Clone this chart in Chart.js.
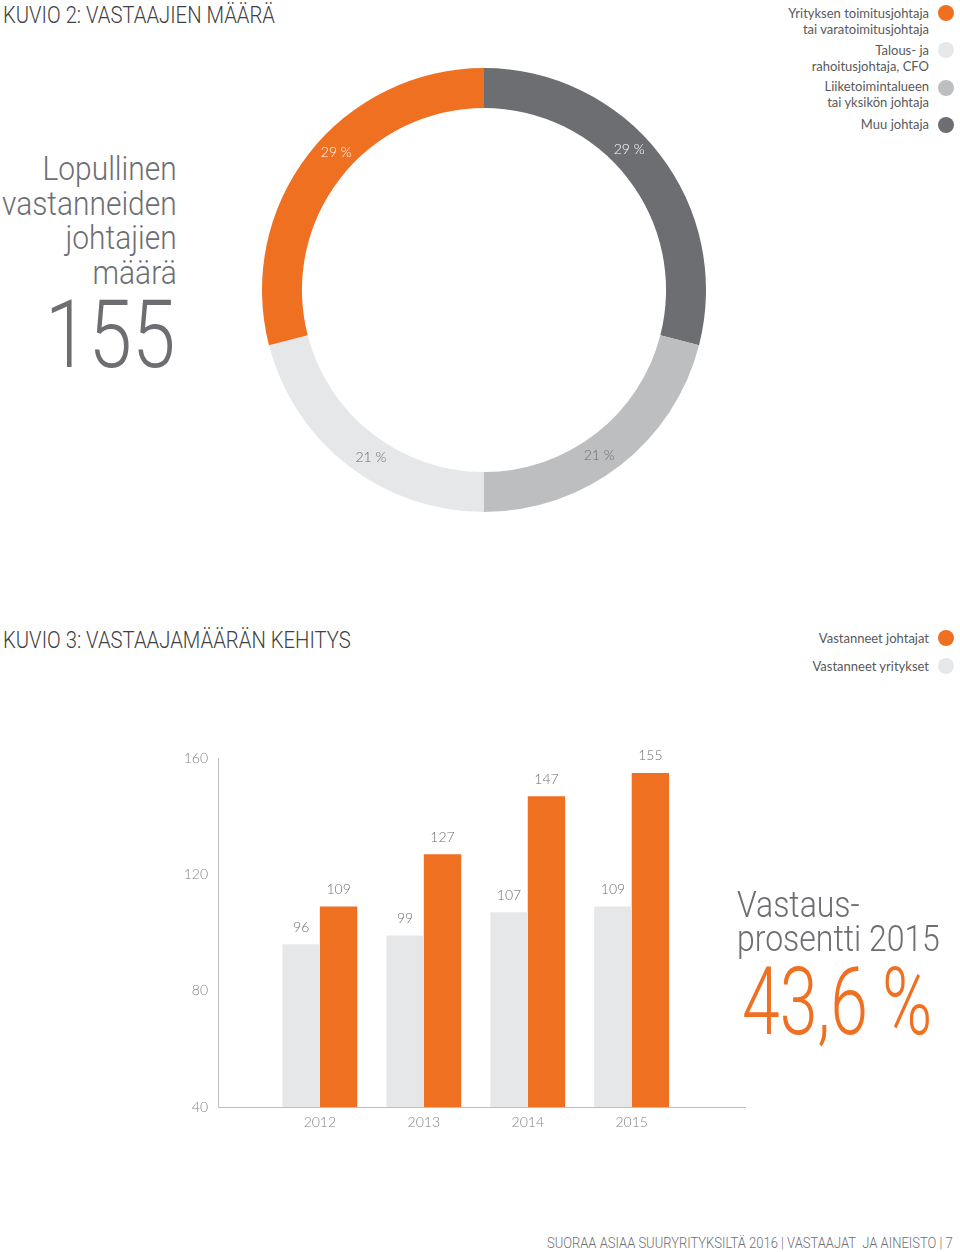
<!DOCTYPE html>
<html>
<head>
<meta charset="utf-8">
<script src="https://cdn.jsdelivr.net/npm/chart.js@4.4.1/dist/chart.umd.min.js"></script>
<style>
  html, body { margin: 0; padding: 0; background: #fff; }
  #page { position: relative; width: 960px; height: 1252px; overflow: hidden; font-family: Roboto, "Open Sans", sans-serif; color: #6d6e71; }
  .abs { position: absolute; white-space: nowrap; }
  .title { font-size: 23px; font-weight: 300; color: #414042; }
  .legend { right: 31px; text-align: right; font-size: 13px; line-height: 16px; color: #58595b; font-family: Lato, sans-serif; }
  .dot { position: absolute; width: 16px; height: 16px; border-radius: 50%; left: 938px; }
  canvas { position: absolute; }
</style>
</head>
<body>
<div id="page">
  <div class="abs title fit" data-w="272" style="left:3px; top:2px;">KUVIO 2: VASTAAJIEN MÄÄRÄ</div>

  <div class="abs legend" style="top:5px;">Yrityksen toimitusjohtaja<br>tai varatoimitusjohtaja</div>
  <div class="dot" style="top:5px; background:#f07022;"></div>
  <div class="abs legend" style="top:42px;">Talous- ja<br>rahoitusjohtaja, CFO</div>
  <div class="dot" style="top:42px; background:#e6e7e8;"></div>
  <div class="abs legend" style="top:78px;">Liiketoimintalueen<br>tai yksikön johtaja</div>
  <div class="dot" style="top:80px; background:#bcbec0;"></div>
  <div class="abs legend" style="top:116px;">Muu johtaja</div>
  <div class="dot" style="top:117px; background:#6d6e71;"></div>

  <div class="abs fit" data-w="175" data-o="right" style="right:783px; top:152px; text-align:right; font-size:33px; line-height:34.5px; font-weight:300; color:#6d6e71;">Lopullinen<br>vastanneiden<br>johtajien<br>määrä</div>
  <div class="abs fit" data-w="130" data-o="right" style="right:785px; top:285px; font-size:94px; line-height:100px; font-weight:300; color:#6d6e71;">155</div>

  <canvas id="donut" width="444" height="444" style="left:262px; top:68px;"></canvas>

  <div class="abs title fit" data-w="348" style="left:3px; top:627px;">KUVIO 3: VASTAAJAMÄÄRÄN KEHITYS</div>
  <div class="abs legend" style="top:630px;">Vastanneet johtajat</div>
  <div class="dot" style="top:630px; background:#f07022;"></div>
  <div class="abs legend" style="top:658px;">Vastanneet yritykset</div>
  <div class="dot" style="top:658px; background:#e6e7e8;"></div>

  <canvas id="bars" width="610" height="410" style="left:150px; top:740px;"></canvas>

  <div class="abs fit" data-w="203" style="left:737px; top:888px; font-size:37px; line-height:34px; font-weight:300; color:#6d6e71;">Vastaus-<br>prosentti 2015</div>
  <div class="abs fit" data-w="190" style="left:742px; top:952px; font-size:94px; line-height:100px; font-weight:300; color:#f07022;">43,6&#8201;%</div>

  <div class="abs fit" data-w="406" data-o="right" style="right:7px; top:1234px; font-size:15px; line-height:18px; font-weight:300; color:#6d6e71;">SUORAA ASIAA SUURYRITYKSILTÄ 2016 | VASTAAJAT&nbsp; JA AINEISTO | 7</div>
</div>

<script>
// kuvio 2 - roles (legend order)
const roleLabels = ['Yrityksen toimitusjohtaja tai varatoimitusjohtaja', 'Talous- ja rahoitusjohtaja, CFO', 'Liiketoimintalueen tai yksikön johtaja', 'Muu johtaja'];
const roleShares = [29, 21, 21, 29];
const roleColors = ['#f07022', '#e6e7e8', '#bcbec0', '#6d6e71'];
const roleTextColors = ['#ffffff', '#6d6e71', '#6d6e71', '#ffffff'];

// kuvio 3 - respondents per year
const years = [2012, 2013, 2014, 2015];
const companies = [96, 99, 107, 109];
const leaders = [109, 127, 147, 155];
const yTicks = [40, 80, 120, 160];

// squeeze the big text to the widths of the original condensed face
function fitText() {
  document.querySelectorAll('.fit').forEach(el => {
    el.style.transform = 'none';
    el.style.transformOrigin = (el.dataset.o || 'left') + ' top';
    el.style.transform = 'scaleX(' + (+el.dataset.w / el.offsetWidth) + ')';
  });
}
fitText();
if (document.fonts) document.fonts.ready.then(fitText);

Chart.defaults.font.family = 'Lato, Roboto, sans-serif';
Chart.defaults.animation = false;

// chart draws clockwise from the top: Muu, Liiketoiminta, Talous, Yrityksen
const order = [3, 2, 1, 0];
// labels lean a little toward the vertical axis
const labelPos = [0.44, 0.54, 0.45, 0.55];

const sliceLabels = {
  id: 'sliceLabels',
  afterDatasetsDraw(chart) {
    const ctx = chart.ctx;
    const meta = chart.getDatasetMeta(0);
    ctx.save();
    ctx.font = '300 14px Lato, sans-serif';
    ctx.textAlign = 'center';
    ctx.textBaseline = 'middle';
    meta.data.forEach((arc, i) => {
      const a = arc.startAngle + (arc.endAngle - arc.startAngle) * labelPos[i];
      const r = (arc.innerRadius + arc.outerRadius) / 2;
      ctx.fillStyle = roleTextColors[order[i]];
      ctx.fillText(roleShares[order[i]] + ' %', arc.x + Math.cos(a) * r, arc.y + Math.sin(a) * r);
    });
    ctx.restore();
  }
};

new Chart(document.getElementById('donut'), {
  type: 'doughnut',
  data: {
    labels: order.map(i => roleLabels[i]),
    datasets: [{
      data: order.map(i => roleShares[i]),
      backgroundColor: order.map(i => roleColors[i]),
      borderWidth: 0
    }]
  },
  options: {
    responsive: false,
    cutout: '82%',
    plugins: { legend: { display: false }, tooltip: { enabled: false } }
  },
  plugins: [sliceLabels]
});

const barLabels = {
  id: 'barLabels',
  afterDatasetsDraw(chart) {
    const ctx = chart.ctx;
    ctx.save();
    ctx.font = '300 14px Lato, sans-serif';
    ctx.fillStyle = '#6d6e71';
    ctx.textAlign = 'center';
    ctx.textBaseline = 'middle';
    chart.data.datasets.forEach((ds, di) => {
      chart.getDatasetMeta(di).data.forEach((bar, i) => {
        ctx.fillText(ds.data[i].y, bar.x, bar.y - 17);
      });
    });
    ctx.restore();
  }
};

new Chart(document.getElementById('bars'), {
  type: 'bar',
  data: {
    datasets: [
      {
        label: 'Vastanneet yritykset',
        data: years.map((y, i) => ({ x: y, y: companies[i] })),
        backgroundColor: '#e6e7e8'
      },
      {
        label: 'Vastanneet johtajat',
        data: years.map((y, i) => ({ x: y, y: leaders[i] })),
        backgroundColor: '#f07022'
      }
    ]
  },
  options: {
    responsive: false,
    layout: { padding: { top: 17, right: 15, left: 0, bottom: 0 } },
    categoryPercentage: 0.72,
    barPercentage: 1,
    plugins: { legend: { display: false }, tooltip: { enabled: false } },
    scales: {
      x: {
        type: 'linear',
        offset: false,
        min: 2011.02,
        max: 2016.09,
        afterBuildTicks(scale) { scale.ticks = years.map(v => ({ value: v })); },
        afterFit(scale) { scale.height = 43; },
        grid: { display: false, drawTicks: false, offset: false },
        border: { display: true, color: '#bcbec0', width: 1 },
        ticks: { padding: 7, color: '#808285', font: { size: 14, weight: 300 }, callback: v => String(v) }
      },
      y: {
        min: 40,
        max: 160,
        afterBuildTicks(scale) { scale.ticks = yTicks.map(v => ({ value: v })); },
        afterFit(scale) { scale.width = 68; },
        grid: { display: false, drawTicks: false },
        border: { display: true, color: '#bcbec0', width: 1 },
        ticks: { padding: 10, color: '#808285', font: { size: 14, weight: 300 } }
      }
    }
  },
  plugins: [barLabels]
});
</script>
</body>
</html>
